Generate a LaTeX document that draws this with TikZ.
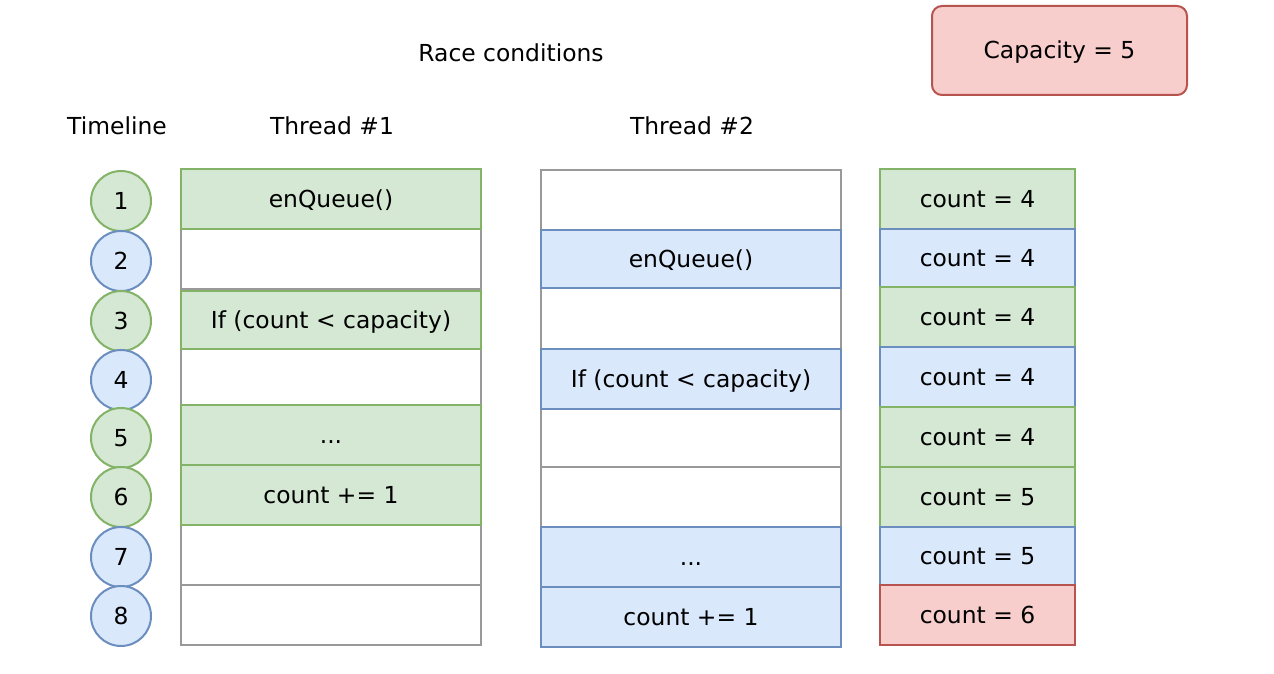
\documentclass[tikz,border=0pt]{standalone}
\usepackage{fontspec}
\setmainfont{DejaVu Sans}
\definecolor{gfill}{HTML}{D5E8D4}
\definecolor{gline}{HTML}{82B366}
\definecolor{bfill}{HTML}{DAE8FC}
\definecolor{bline}{HTML}{6C8EBF}
\definecolor{rfill}{HTML}{F8CECC}
\definecolor{rline}{HTML}{B85450}
\definecolor{wline}{HTML}{999999}
\tikzset{
  txt/.style={font=\fontsize{23.5}{27}\selectfont, text=black, text depth=0pt, text height=16.5bp},
  base/.style={rectangle, line width=2bp, inner sep=0pt, txt},
  whitecell/.style={base, draw=wline, fill=white},
  greencell/.style={base, draw=gline, fill=gfill},
  bluecell/.style={base, draw=bline, fill=bfill},
  redcell/.style={base, draw=rline, fill=rfill},
  t1/.style={minimum width=300bp},
  t2/.style={minimum width=300bp},
  cc/.style={minimum width=195bp},
  gcirc/.style={circle, minimum size=60bp, inner sep=0pt, line width=2bp, draw=gline, fill=gfill, txt},
  bcirc/.style={circle, minimum size=60bp, inner sep=0pt, line width=2bp, draw=bline, fill=bfill, txt},
  lbl/.style={txt},
}
\begin{document}
\begin{tikzpicture}[x=1bp,y=-1bp]
\useasboundingbox[fill=white] (0,0) rectangle (1274,674);
% title and headers
\node[lbl] (title) at (511,53) {Race conditions};
\node[base, redcell, rounded corners=10bp, minimum width=255bp, minimum height=89bp] (cap) at (1059.5,50.5) {Capacity = 5};
\node[lbl] (tl) at (117,126) {Timeline};
\node[lbl] (th1) at (332,126) {Thread \#1};
\node[lbl] (th2) at (692,126) {Thread \#2};
% timeline circles
\node[gcirc] (c1) at (121,201) {1};
\node[bcirc] (c2) at (121,261) {2};
\node[gcirc] (c3) at (121,321) {3};
\node[bcirc] (c4) at (121,380) {4};
\node[gcirc] (c5) at (121,438) {5};
\node[gcirc] (c6) at (121,497) {6};
\node[bcirc] (c7) at (121,557) {7};
\node[bcirc] (c8) at (121,616) {8};
% thread 1 - white first
\node[whitecell,t1,minimum height=60bp] (a2) at (331,259) {};
\node[whitecell,t1,minimum height=56bp] (a4) at (331,377) {};
\node[whitecell,t1,minimum height=60bp] (a7) at (331,555) {};
\node[whitecell,t1,minimum height=60bp] (a8) at (331,615) {};
\node[greencell,t1,minimum height=60bp] (a1) at (331,199) {enQueue()};
\node[greencell,t1,minimum height=58bp] (a3) at (331,320) {If (count < capacity)};
\node[greencell,t1,minimum height=60bp] (a5) at (331,435) {...};
\node[greencell,t1,minimum height=60bp] (a6) at (331,495) {count += 1};
% thread 2
\node[whitecell,t2,minimum height=60bp] (b1) at (691,200) {};
\node[whitecell,t2,minimum height=61bp] (b3) at (691,318.5) {};
\node[whitecell,t2,minimum height=58bp] (b5) at (691,438) {};
\node[whitecell,t2,minimum height=60bp] (b6) at (691,497) {};
\node[bluecell,t2,minimum height=58bp] (b2) at (691,259) {enQueue()};
\node[bluecell,t2,minimum height=60bp] (b4) at (691,379) {If (count < capacity)};
\node[bluecell,t2,minimum height=60bp] (b7) at (691,557) {...};
\node[bluecell,t2,minimum height=60bp] (b8) at (691,617) {count += 1};
% count column
\node[greencell,cc,minimum height=60bp] (k1) at (977.5,199) {count = 4};
\node[bluecell,cc,minimum height=58bp] (k2) at (977.5,258) {count = 4};
\node[greencell,cc,minimum height=60bp] (k3) at (977.5,317) {count = 4};
\node[bluecell,cc,minimum height=60bp] (k4) at (977.5,377) {count = 4};
\node[greencell,cc,minimum height=60bp] (k5) at (977.5,437) {count = 4};
\node[greencell,cc,minimum height=60bp] (k6) at (977.5,497) {count = 5};
\node[bluecell,cc,minimum height=58bp] (k7) at (977.5,556) {count = 5};
\node[redcell,cc,minimum height=60bp] (k8) at (977.5,615) {count = 6};
\end{tikzpicture}
\end{document}
